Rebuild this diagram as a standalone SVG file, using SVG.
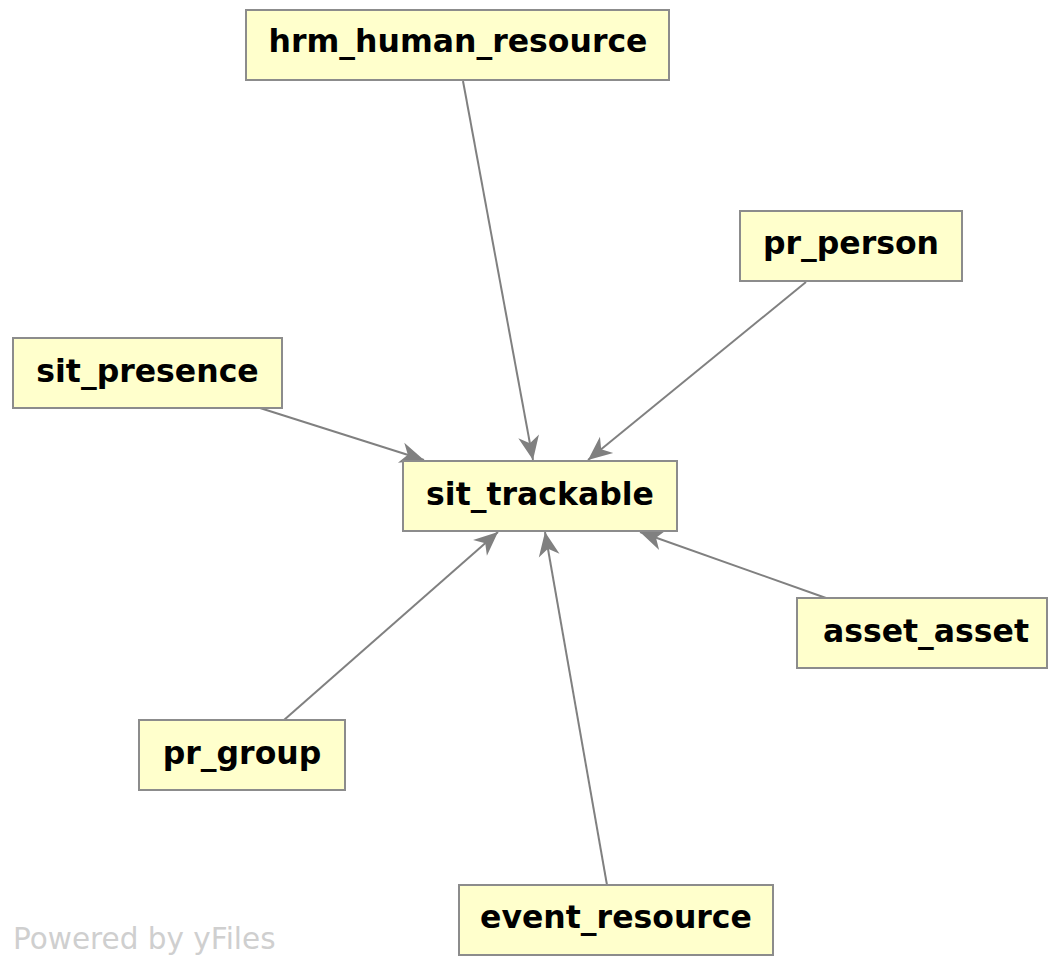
<svg xmlns="http://www.w3.org/2000/svg" width="1048" height="958" viewBox="0 0 1048 958">
  <style>
    .box { fill: #ffffcc; stroke: #8c8c8c; stroke-width: 2; }
    .label { font-family: "DejaVu Sans", sans-serif; font-weight: bold; font-size: 31.5px; fill: #000; text-anchor: middle; }
    .edge { fill: none; stroke: #808080; stroke-width: 2; }
    .mark { font-family: "DejaVu Sans", sans-serif; font-size: 29.5px; fill: #cfcfcf; }
  </style>
  <defs>
    <marker id="arrow" viewBox="-26 -12 28 24" refX="0" refY="0" markerWidth="28" markerHeight="24" markerUnits="userSpaceOnUse" orient="auto">
      <path d="M0,0 L-24,-10.5 L-17,0 L-24,10.5 Z" fill="#808080"/>
    </marker>
  </defs>
  <rect width="1048" height="958" fill="#ffffff"/>

  <g id="connectors">
    <line class="edge" x1="463" y1="81" x2="533" y2="460" marker-end="url(#arrow)"/>
    <line class="edge" x1="806" y1="282" x2="588" y2="460" marker-end="url(#arrow)"/>
    <line class="edge" x1="260" y1="408" x2="424" y2="460" marker-end="url(#arrow)"/>
    <line class="edge" x1="826" y1="598" x2="640" y2="532" marker-end="url(#arrow)"/>
    <line class="edge" x1="284" y1="720" x2="498" y2="532" marker-end="url(#arrow)"/>
    <line class="edge" x1="607" y1="885" x2="545" y2="532" marker-end="url(#arrow)"/>
  </g>

  <g id="hrm_human_resource">
    <rect class="box" x="246" y="10" width="423" height="70"/>
    <text class="label" x="458" y="52">hrm_human_resource</text>
  </g>
  <g id="pr_person">
    <rect class="box" x="740" y="211" width="222" height="70"/>
    <text class="label" x="851" y="254">pr_person</text>
  </g>
  <g id="sit_presence">
    <rect class="box" x="13" y="338" width="269" height="70"/>
    <text class="label" x="147.5" y="382">sit_presence</text>
  </g>
  <g id="sit_trackable">
    <rect class="box" x="403" y="461" width="274" height="70"/>
    <text class="label" x="540" y="505">sit_trackable</text>
  </g>
  <g id="asset_asset">
    <rect class="box" x="797" y="598" width="250" height="70"/>
    <text class="label" x="926" y="642">asset_asset</text>
  </g>
  <g id="pr_group">
    <rect class="box" x="139" y="720" width="206" height="70"/>
    <text class="label" x="242" y="764">pr_group</text>
  </g>
  <g id="event_resource">
    <rect class="box" x="459" y="885" width="314" height="70"/>
    <text class="label" x="616" y="928">event_resource</text>
  </g>

  <text class="mark" x="13" y="949">Powered by yFiles</text>
</svg>
